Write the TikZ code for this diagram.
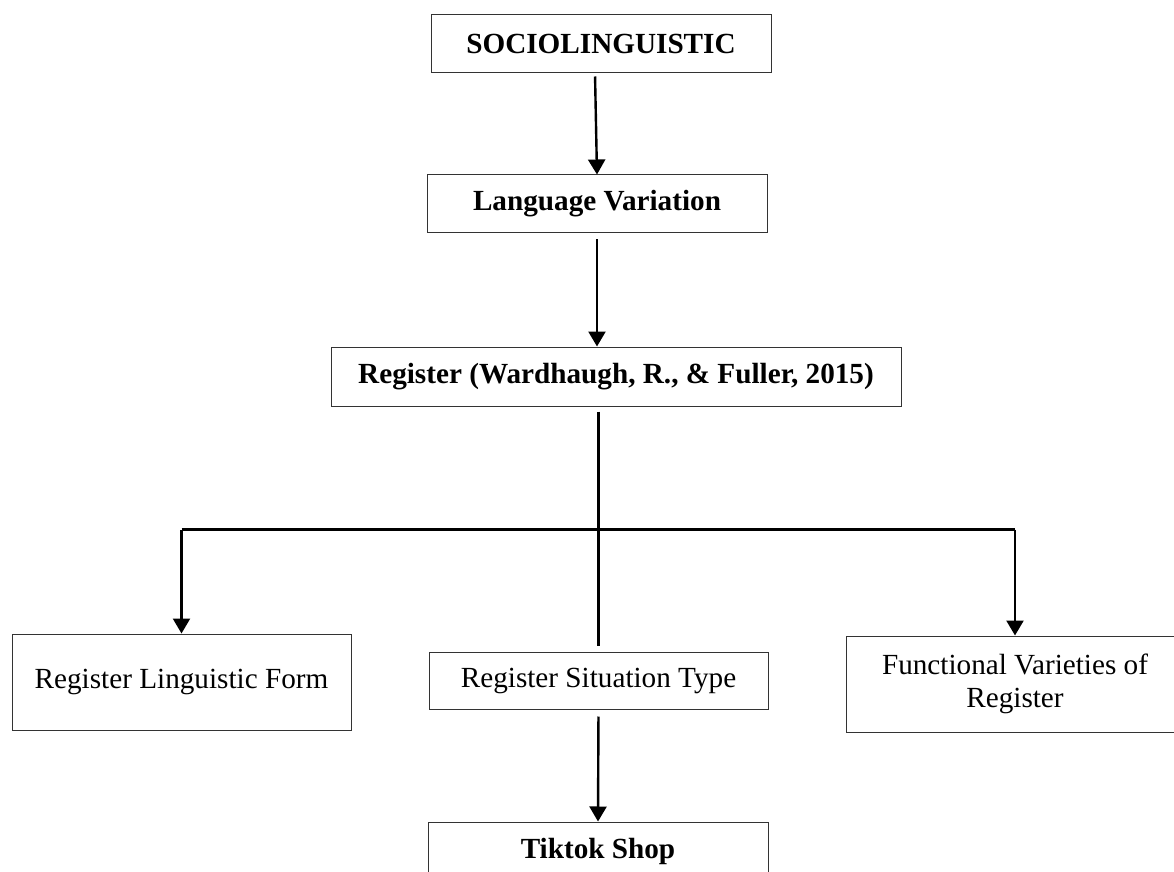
\documentclass[tikz,border=0pt]{standalone}
\usepackage{fontspec}
\setmainfont{Liberation Serif}
\usetikzlibrary{arrows.meta}
\begin{document}
\begin{tikzpicture}[x=0.5pt,y=-0.5pt,
  box/.style={draw=black!80, line width=0.5pt, inner sep=0pt, align=center,
              font=\fontsize{14.6}{16.5}\selectfont},
  bbox/.style={box, font=\fontsize{14.6}{16.5}\selectfont\bfseries},
  arr/.style={-{Triangle[width=8.5pt,length=7.5pt]}, line width=1.2pt},
  conn/.style={line width=1.1pt}]
\useasboundingbox (0,0) rectangle (1174,872);
\clip (0,0) rectangle (1174,872);
\fill[white] (0,0) rectangle (1174,872);

\node[bbox, minimum width=170pt, minimum height=29pt] (soc) at (601,44) {SOCIOLINGUISTIC};
\node[bbox, minimum width=170pt, minimum height=29pt] (lv) at (597,204) {Language Variation};
\node[bbox, minimum width=285pt, minimum height=29.5pt] (reg) at (616,376.5) {Register (Wardhaugh, R., \& Fuller, 2015)};
\node[box, minimum width=169.5pt, minimum height=48pt] (rlf) at (181.5,682) {Register Linguistic Form};
\node[box, minimum width=169.5pt, minimum height=28.5pt] (rst) at (598.5,680.5) {Register Situation Type};
\node[box, minimum width=169pt, minimum height=48pt] (fvr) at (1015,684) {Functional Varieties of\\Register};
\node[bbox, minimum width=170pt, minimum height=29pt] (tt) at (598,851) {Tiktok Shop};

\coordinate (hl) at (599,529.5);

\draw[arr, shorten <=1.5pt] ([xshift=-3pt]soc.south) -- (lv.north);
\draw[arr, shorten <=3pt] (lv.south) -- (lv.south |- reg.north);
\draw[conn, shorten <=2.5pt, shorten >=3pt] (rst.north |- reg.south) -- (rst.north);
\draw[conn] (rlf.north |- hl) -- (fvr.north |- hl);
\draw[arr] (rlf.north |- hl) -- (rlf.north);
\draw[arr] (fvr.north |- hl) -- (fvr.north);
\draw[arr, shorten <=3.5pt] (rst.south) -- (tt.north);
\end{tikzpicture}
\end{document}
